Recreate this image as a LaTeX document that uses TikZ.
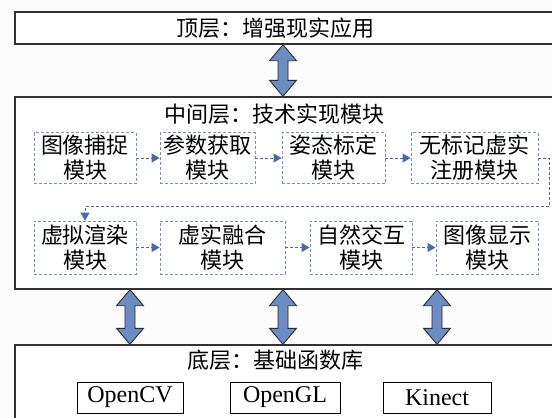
\documentclass[tikz,border=0pt]{standalone}
\usepackage{fontspec}
\setmainfont{Liberation Serif}
\newfontfamily\cjk{Noto Sans CJK SC}
\usetikzlibrary{arrows.meta,calc}
\definecolor{layerline}{RGB}{50,50,50}
\definecolor{modline}{RGB}{120,146,192}
\definecolor{connline}{RGB}{74,105,165}
\definecolor{arrfill}{RGB}{108,140,196}
\definecolor{arrline}{RGB}{45,45,45}
\definecolor{bgcol}{RGB}{252,252,252}
\newcommand{\udarrow}[2]{%
  \filldraw[fill=arrfill,draw=arrline,line width=0.9pt,line join=miter]
   (#1) -- ++(13.5,16) -- ++(-8.5,0) -- ($(#2)+(5,-16)$) -- ++(8.5,0) -- (#2)
   -- ++(-13.5,-16) -- ++(8.5,0) -- ($(#1)+(-5,16)$) -- ++(-8.5,0) -- cycle;}
\begin{document}
\begin{tikzpicture}[x=1pt,y=-1pt,
  layer/.style={draw=layerline,line width=1.4pt,fill=white,rectangle,inner sep=0pt},
  ttl/.style={font={\cjk\fontsize{22}{25}\selectfont},inner sep=0pt},
  modbox/.style={draw=modline,dash pattern=on 3pt off 2pt,line width=0.8pt,fill=white,
    align=center,font={\cjk\fontsize{22}{25}\selectfont},inner sep=0pt},
  conn/.style={draw=connline,line width=0.9pt,dash pattern=on 3pt off 2pt,
    -{Triangle[length=8pt,width=9pt]}},
  lib/.style={draw=black,line width=0.8pt,fill=white,font={\fontsize{24}{28}\selectfont},
    minimum height=31pt,inner sep=0pt}]
\useasboundingbox (0,0) rectangle (552,418);
\clip (0,0) rectangle (552,418);
\fill[bgcol] (0,0) rectangle (552,418);

% layers
\node[layer,minimum width=560pt,minimum height=32pt] (top) at (295,28) {};
\node[layer,minimum width=560pt,minimum height=192pt] (mid) at (295,193) {};
\node[layer,minimum width=560pt,minimum height=100pt] (bot) at (295,395) {};

\node[ttl] (ttop) at (275,28) {顶层：增强现实应用};
\node[ttl] (tmid) at (274,114) {中间层：技术实现模块};
\node[ttl] (tbot) at (275,360) {底层：基础函数库};

% modules
\node[modbox,minimum width=102pt,minimum height=51pt] (m1) at (85,158) {图像捕捉\\模块};
\node[modbox,minimum width=95pt,minimum height=51pt] (m2) at (207.5,158) {参数获取\\模块};
\node[modbox,minimum width=103pt,minimum height=51pt] (m3) at (333.5,158) {姿态标定\\模块};
\node[modbox,minimum width=127pt,minimum height=51pt] (m4) at (474.5,158) {无标记虚实\\注册模块};
\node[modbox,minimum width=102pt,minimum height=53pt] (m5) at (85,247.5) {虚拟渲染\\模块};
\node[modbox,minimum width=125pt,minimum height=53pt] (m6) at (222.5,247.5) {虚实融合\\模块};
\node[modbox,minimum width=102pt,minimum height=53pt] (m7) at (361,247.5) {自然交互\\模块};
\node[modbox,minimum width=102pt,minimum height=53pt] (m8) at (487,247.5) {图像显示\\模块};

\draw[conn] (m1.east) -- (m2.west);
\draw[conn] (m2.east) -- (m3.west);
\draw[conn] (m3.east) -- (m4.west);
\draw[conn] (m4.east) -- ++(11,0) |- ($(m5.north)+(0,-14)$) -- (m5.north);
\draw[conn] (m5.east) -- (m6.west);
\draw[conn] (m6.east) -- (m7.west);
\draw[conn] (m7.east) -- (m8.west);

% libraries
\node[lib,minimum width=106pt] (cv) at (130,397.5) {OpenCV};
\node[lib,minimum width=110pt] (gl) at (285,397.5) {OpenGL};
\node[lib,minimum width=108pt] (kin) at (437,397.5) {Kinect};

% double arrows
\coordinate (xa) at (283,0);
\coordinate (xb) at (130,0);
\coordinate (xc) at (283,0);
\coordinate (xd) at (437,0);
\coordinate (a1) at (top.south -| xa);
\coordinate (a2) at (mid.north -| xa);
\coordinate (b1) at (mid.south -| xb);
\coordinate (b2) at (bot.north -| xb);
\coordinate (c1) at (mid.south -| xc);
\coordinate (c2) at (bot.north -| xc);
\coordinate (d1) at (mid.south -| xd);
\coordinate (d2) at (bot.north -| xd);
\udarrow{a1}{a2}
\udarrow{b1}{b2}
\udarrow{c1}{c2}
\udarrow{d1}{d2}
\end{tikzpicture}
\end{document}
